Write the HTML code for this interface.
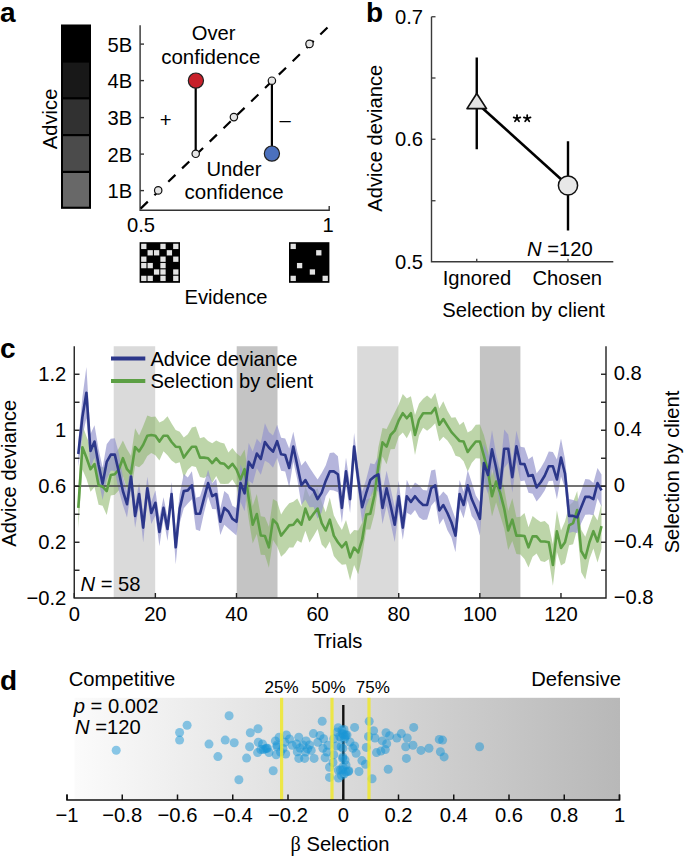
<!DOCTYPE html>
<html><head><meta charset="utf-8"><style>
html,body{margin:0;padding:0;background:#fff;}
svg{display:block;}
text{font-family:"Liberation Sans", sans-serif;fill:#000;}
</style></head><body>
<svg width="685" height="856" viewBox="0 0 685 856">
<text x="0" y="21.5" font-size="28" text-anchor="start" font-weight="bold">a</text>
<rect x="61" y="24.70" width="30" height="36.80" fill="#000000"/>
<rect x="61" y="61.50" width="30" height="36.80" fill="#181818"/>
<rect x="61" y="98.30" width="30" height="36.80" fill="#313131"/>
<rect x="61" y="135.10" width="30" height="36.80" fill="#4b4b4b"/>
<rect x="61" y="171.90" width="30" height="36.80" fill="#686868"/>
<rect x="62" y="25.70" width="28" height="182.00" fill="none" stroke="#000" stroke-width="2"/>
<line x1="61" x2="91" y1="61.50" y2="61.50" stroke="#000" stroke-width="2.2"/>
<line x1="61" x2="91" y1="98.30" y2="98.30" stroke="#000" stroke-width="2.2"/>
<line x1="61" x2="91" y1="135.10" y2="135.10" stroke="#000" stroke-width="2.2"/>
<line x1="61" x2="91" y1="171.90" y2="171.90" stroke="#000" stroke-width="2.2"/>
<text transform="translate(57,118.9) rotate(-90)" font-size="20.2" text-anchor="middle">Advice</text>
<path d="M140.1,25.3 V210.3 H329.2 V206" fill="none" stroke="#333" stroke-width="1.4"/>
<line x1="140.2" x2="144" y1="44.1" y2="44.1" stroke="#333" stroke-width="1.4"/>
<text x="132.2" y="51.5" font-size="20.2" text-anchor="end" >5B</text>
<line x1="140.2" x2="144" y1="80.60000000000001" y2="80.60000000000001" stroke="#333" stroke-width="1.4"/>
<text x="132.2" y="88.0" font-size="20.2" text-anchor="end" >4B</text>
<line x1="140.2" x2="144" y1="117.60000000000001" y2="117.60000000000001" stroke="#333" stroke-width="1.4"/>
<text x="132.2" y="125.0" font-size="20.2" text-anchor="end" >3B</text>
<line x1="140.2" x2="144" y1="154.1" y2="154.1" stroke="#333" stroke-width="1.4"/>
<text x="132.2" y="161.5" font-size="20.2" text-anchor="end" >2B</text>
<line x1="140.2" x2="144" y1="190.6" y2="190.6" stroke="#333" stroke-width="1.4"/>
<text x="132.2" y="198.0" font-size="20.2" text-anchor="end" >1B</text>
<text x="141" y="232" font-size="20.2" text-anchor="middle" >0.5</text>
<text x="328" y="232" font-size="20.2" text-anchor="middle" >1</text>
<line x1="140.6" y1="208.6" x2="327.5" y2="27.5" stroke="#000" stroke-width="2.2" stroke-dasharray="10,9.25"/>
<line x1="195.7" y1="80.7" x2="195.7" y2="153.8" stroke="#000" stroke-width="2.2"/>
<line x1="271.9" y1="80.7" x2="271.9" y2="153.8" stroke="#000" stroke-width="2.2"/>
<circle cx="158.2" cy="190.4" r="3.7" fill="#e6e6e6" stroke="#111" stroke-width="1.2"/>
<circle cx="195.7" cy="153.8" r="3.7" fill="#e6e6e6" stroke="#111" stroke-width="1.2"/>
<circle cx="233.9" cy="117.1" r="3.7" fill="#e6e6e6" stroke="#111" stroke-width="1.2"/>
<circle cx="271.9" cy="80.7" r="3.7" fill="#e6e6e6" stroke="#111" stroke-width="1.2"/>
<circle cx="309.5" cy="43.9" r="3.7" fill="#e6e6e6" stroke="#111" stroke-width="1.2"/>
<circle cx="195.9" cy="80.6" r="7.6" fill="#c8202a" stroke="#222" stroke-width="1.2"/>
<circle cx="271.9" cy="153.6" r="7.6" fill="#4b70bd" stroke="#222" stroke-width="1.2"/>
<text x="165.6" y="126.5" font-size="20.2" text-anchor="middle" >+</text>
<text x="285.2" y="127" font-size="20.2" text-anchor="middle" >–</text>
<text x="213.6" y="39.8" font-size="20.2" text-anchor="middle" >Over</text>
<text x="210.8" y="63.9" font-size="20.5" text-anchor="middle" >confidence</text>
<text x="234" y="175.8" font-size="20.2" text-anchor="middle" >Under</text>
<text x="234.2" y="199.2" font-size="20.5" text-anchor="middle" >confidence</text>
<rect x="139.6" y="242.2" width="40.4" height="40.6" fill="#000"/><rect x="141.15" y="243.75" width="5.30" height="5.30" fill="#e2e2e2"/><rect x="160.35" y="243.75" width="5.30" height="5.30" fill="#e2e2e2"/><rect x="173.15" y="243.75" width="5.30" height="5.30" fill="#e2e2e2"/><rect x="147.55" y="250.15" width="5.30" height="5.30" fill="#e2e2e2"/><rect x="153.95" y="250.15" width="5.30" height="5.30" fill="#e2e2e2"/><rect x="166.75" y="250.15" width="5.30" height="5.30" fill="#e2e2e2"/><rect x="141.15" y="256.55" width="5.30" height="5.30" fill="#e2e2e2"/><rect x="160.35" y="256.55" width="5.30" height="5.30" fill="#e2e2e2"/><rect x="173.15" y="256.55" width="5.30" height="5.30" fill="#e2e2e2"/><rect x="141.15" y="262.95" width="5.30" height="5.30" fill="#e2e2e2"/><rect x="147.55" y="262.95" width="5.30" height="5.30" fill="#e2e2e2"/><rect x="160.35" y="262.95" width="5.30" height="5.30" fill="#e2e2e2"/><rect x="153.95" y="269.35" width="5.30" height="5.30" fill="#e2e2e2"/><rect x="160.35" y="269.35" width="5.30" height="5.30" fill="#e2e2e2"/><rect x="173.15" y="269.35" width="5.30" height="5.30" fill="#e2e2e2"/><rect x="141.15" y="275.75" width="5.30" height="5.30" fill="#e2e2e2"/><rect x="147.55" y="275.75" width="5.30" height="5.30" fill="#e2e2e2"/><rect x="160.35" y="275.75" width="5.30" height="5.30" fill="#e2e2e2"/><rect x="173.15" y="275.75" width="5.30" height="5.30" fill="#e2e2e2"/>
<rect x="289.0" y="242.2" width="40.4" height="40.6" fill="#000"/><rect x="290.55" y="243.75" width="5.30" height="5.30" fill="#e2e2e2"/><rect x="316.15" y="250.15" width="5.30" height="5.30" fill="#e2e2e2"/><rect x="296.95" y="262.95" width="5.30" height="5.30" fill="#e2e2e2"/><rect x="309.75" y="269.35" width="5.30" height="5.30" fill="#e2e2e2"/><rect x="290.55" y="275.75" width="5.30" height="5.30" fill="#e2e2e2"/><rect x="322.55" y="275.75" width="5.30" height="5.30" fill="#e2e2e2"/>
<text x="226" y="304" font-size="20.2" text-anchor="middle" >Evidence</text>
<text x="366" y="21.5" font-size="28" text-anchor="start" font-weight="bold">b</text>
<path d="M431.5,16.75 V261.8 H613.3" fill="none" stroke="#3a3a3a" stroke-width="1.4"/>
<line x1="431.5" x2="435.5" y1="16.75" y2="16.75" stroke="#3a3a3a" stroke-width="1.3"/>
<line x1="431.5" x2="435.5" y1="78" y2="78" stroke="#3a3a3a" stroke-width="1.3"/>
<line x1="431.5" x2="435.5" y1="139.25" y2="139.25" stroke="#3a3a3a" stroke-width="1.3"/>
<line x1="431.5" x2="435.5" y1="200.75" y2="200.75" stroke="#3a3a3a" stroke-width="1.3"/>
<text x="423" y="23.95" font-size="20.2" text-anchor="end" >0.7</text>
<text x="423" y="146.45" font-size="20.2" text-anchor="end" >0.6</text>
<text x="423" y="269.2" font-size="20.2" text-anchor="end" >0.5</text>
<line x1="476.75" x2="476.75" y1="262" y2="258.8" stroke="#3a3a3a" stroke-width="1.3"/>
<line x1="568" x2="568" y1="262" y2="258.8" stroke="#3a3a3a" stroke-width="1.3"/>
<text x="477" y="285" font-size="20.2" text-anchor="middle" >Ignored</text>
<text x="567.3" y="285" font-size="20.2" text-anchor="middle" >Chosen</text>
<text x="523.6" y="317" font-size="20.2" text-anchor="middle" >Selection by client</text>
<text transform="translate(381.9,138.2) rotate(-90)" font-size="20.2" text-anchor="middle">Advice deviance</text>
<line x1="476.75" y1="57.5" x2="476.75" y2="149.25" stroke="#000" stroke-width="2.4"/>
<line x1="568" y1="141.25" x2="568" y2="230.5" stroke="#000" stroke-width="2.4"/>
<line x1="476.75" y1="103" x2="568" y2="185.5" stroke="#000" stroke-width="2.6"/>
<path d="M476.75,93.5 L486.5,108.6 L467,108.6 Z" fill="#e3e3e3" stroke="#111" stroke-width="1.7" stroke-linejoin="round"/>
<circle cx="568" cy="185.5" r="9.6" fill="#e8e8e8" stroke="#111" stroke-width="1.5"/>
<path d="M517.00,118.50 L517.00,115.00 M517.00,118.50 L513.67,117.42 M517.00,118.50 L514.94,121.33 M517.00,118.50 L519.06,121.33 M517.00,118.50 L520.33,117.42 " stroke="#000" stroke-width="1.75" stroke-linecap="round"/>
<path d="M527.20,118.50 L527.20,115.00 M527.20,118.50 L523.87,117.42 M527.20,118.50 L525.14,121.33 M527.20,118.50 L529.26,121.33 M527.20,118.50 L530.53,117.42 " stroke="#000" stroke-width="1.75" stroke-linecap="round"/>
<text x="527" y="255.5" font-size="20.2"><tspan font-style="italic">N</tspan> =120</text>
<text x="0" y="358" font-size="28" text-anchor="start" font-weight="bold">c</text>
<rect x="113.70" y="346.25" width="41.50" height="251.75" fill="#dadada"/>
<rect x="236.70" y="346.25" width="40.80" height="251.75" fill="#c4c4c4"/>
<rect x="357.20" y="346.25" width="41.20" height="251.75" fill="#dadada"/>
<rect x="479.90" y="346.25" width="40.50" height="251.75" fill="#c4c4c4"/>
<path d="M78.3,487.5 L82.4,425.0 L86.4,436.3 L90.5,446.6 L94.5,441.3 L98.6,465.9 L102.6,467.6 L106.7,467.1 L110.8,454.4 L114.8,453.9 L118.9,448.2 L122.9,440.4 L127.0,449.2 L131.0,455.7 L135.1,428.2 L139.1,435.5 L143.2,426.0 L147.3,415.6 L151.3,416.9 L155.4,416.4 L159.4,422.6 L163.5,420.4 L167.5,416.3 L171.6,423.5 L175.7,429.9 L179.7,431.8 L183.8,437.4 L187.8,434.2 L191.9,427.4 L195.9,426.4 L200.0,438.3 L204.0,437.1 L208.1,440.9 L212.2,443.3 L216.2,440.6 L220.3,442.5 L224.3,443.5 L228.4,452.6 L232.4,448.0 L236.5,453.3 L240.5,456.6 L244.6,449.6 L248.7,477.6 L252.7,505.9 L256.8,494.0 L260.8,516.2 L264.9,516.9 L268.9,526.8 L273.0,499.1 L277.1,501.5 L281.1,514.5 L285.2,507.9 L289.2,503.3 L293.3,501.8 L297.3,498.6 L301.4,506.7 L305.4,486.4 L309.5,496.8 L313.6,491.3 L317.6,488.2 L321.7,501.9 L325.7,512.2 L329.8,497.6 L333.8,515.2 L337.9,523.5 L341.9,529.9 L346.0,520.1 L350.1,534.6 L354.1,530.1 L358.2,530.6 L362.2,522.8 L366.3,499.6 L370.3,497.9 L374.4,476.9 L378.4,447.1 L382.5,428.0 L386.6,428.9 L390.6,420.7 L394.7,412.4 L398.7,404.5 L402.8,393.9 L406.8,398.4 L410.9,396.2 L415.0,415.0 L419.0,403.8 L423.1,398.7 L427.1,395.6 L431.2,399.0 L435.2,392.8 L439.3,408.4 L443.3,401.3 L447.4,410.7 L451.5,417.8 L455.5,417.3 L459.6,425.1 L463.6,421.7 L467.7,432.6 L471.7,430.3 L475.8,424.7 L479.9,424.4 L483.9,434.9 L488.0,450.9 L492.0,475.8 L496.1,460.9 L500.1,470.0 L504.2,488.6 L508.2,510.9 L512.3,498.3 L516.4,517.2 L520.4,516.8 L524.5,513.1 L528.5,527.2 L532.6,516.1 L536.6,519.3 L540.7,522.0 L544.7,521.0 L548.8,525.1 L552.9,544.3 L556.9,510.4 L561.0,530.6 L565.0,521.4 L569.1,505.6 L573.1,502.1 L577.2,490.9 L581.2,529.8 L585.3,536.8 L589.4,525.1 L593.4,513.8 L597.5,520.4 L601.5,503.3 L601.5,548.9 L597.5,562.6 L593.4,548.6 L589.4,559.3 L585.3,579.6 L581.2,572.2 L577.2,529.1 L573.1,544.3 L569.1,545.2 L565.0,563.0 L561.0,565.4 L556.9,552.0 L552.9,585.7 L548.8,559.3 L544.7,562.0 L540.7,561.0 L536.6,553.5 L532.6,556.7 L528.5,567.4 L524.5,558.9 L520.4,554.4 L516.4,554.0 L512.3,540.9 L508.2,550.1 L504.2,528.6 L500.1,515.2 L496.1,502.3 L492.0,516.6 L488.0,492.1 L483.9,476.7 L479.9,458.6 L475.8,458.3 L471.7,462.9 L467.7,471.4 L463.6,461.3 L459.6,456.9 L455.5,455.7 L451.5,446.4 L447.4,440.5 L443.3,436.7 L439.3,441.2 L435.2,423.2 L431.2,427.4 L427.1,430.8 L423.1,427.7 L419.0,435.6 L415.0,455.0 L410.9,430.2 L406.8,438.2 L402.8,432.5 L398.7,436.5 L394.7,449.0 L390.6,449.3 L386.6,464.3 L382.5,456.6 L378.4,485.5 L374.4,514.1 L370.3,529.5 L366.3,529.4 L362.2,555.8 L358.2,574.2 L354.1,565.1 L350.1,580.4 L346.0,564.3 L341.9,564.7 L337.9,560.9 L333.8,556.0 L329.8,541.6 L325.7,548.8 L321.7,544.5 L317.6,529.0 L313.6,536.1 L309.5,542.4 L305.4,530.8 L301.4,542.7 L297.3,540.6 L293.3,547.6 L289.2,547.5 L285.2,553.1 L281.1,556.7 L277.1,546.3 L273.0,540.1 L268.9,567.8 L264.9,555.1 L260.8,554.8 L256.8,534.0 L252.7,543.5 L248.7,519.2 L244.6,488.8 L240.5,502.2 L236.5,485.9 L232.4,479.6 L228.4,483.8 L224.3,484.1 L220.3,483.7 L216.2,476.0 L212.2,482.9 L208.1,475.7 L204.0,478.1 L200.0,476.9 L195.9,467.0 L191.9,466.0 L187.8,469.8 L183.8,477.8 L179.7,462.2 L175.7,463.5 L171.6,460.5 L167.5,455.3 L163.5,451.2 L159.4,460.6 L155.4,455.2 L151.3,453.1 L147.3,456.0 L143.2,463.6 L139.1,467.3 L135.1,465.8 L131.0,491.5 L127.0,489.2 L122.9,476.0 L118.9,490.2 L114.8,494.7 L110.8,495.6 L106.7,515.1 L102.6,505.8 L98.6,504.7 L94.5,486.9 L90.5,491.8 L86.4,478.7 L82.4,469.6 L78.3,528.3Z" fill="rgb(135,178,98)" fill-opacity="0.55"/>
<path d="M78.3,441.5 L82.4,397.3 L86.4,367.1 L90.5,434.1 L94.5,425.3 L98.6,448.9 L102.6,467.6 L106.7,444.3 L110.8,438.8 L114.8,438.3 L118.9,453.5 L122.9,476.8 L127.0,490.8 L131.0,462.1 L135.1,504.0 L139.1,482.7 L143.2,512.8 L147.3,476.8 L151.3,501.9 L155.4,490.2 L159.4,517.8 L163.5,497.3 L167.5,517.1 L171.6,482.0 L175.7,530.3 L179.7,494.0 L183.8,474.0 L187.8,477.4 L191.9,471.3 L195.9,497.8 L200.0,496.4 L204.0,483.7 L208.1,469.7 L212.2,483.5 L216.2,478.8 L220.3,508.7 L224.3,491.1 L228.4,494.5 L232.4,505.7 L236.5,508.1 L240.5,464.3 L244.6,475.4 L248.7,443.1 L252.7,451.6 L256.8,438.7 L260.8,443.2 L264.9,423.2 L268.9,431.9 L273.0,435.6 L277.1,424.7 L281.1,437.8 L285.2,438.5 L289.2,448.5 L293.3,431.7 L297.3,451.5 L301.4,465.6 L305.4,460.8 L309.5,467.5 L313.6,473.8 L317.6,479.4 L321.7,473.0 L325.7,465.6 L329.8,452.9 L333.8,452.4 L337.9,456.3 L341.9,492.8 L346.0,457.7 L350.1,485.1 L354.1,433.1 L358.2,467.0 L362.2,491.7 L366.3,478.9 L370.3,463.2 L374.4,464.2 L378.4,456.9 L382.5,491.7 L386.6,470.7 L390.6,488.3 L394.7,507.3 L398.7,480.7 L402.8,515.5 L406.8,479.7 L410.9,489.0 L415.0,482.4 L419.0,485.3 L423.1,489.9 L427.1,490.5 L431.2,470.6 L435.2,469.6 L439.3,496.4 L443.3,491.5 L447.4,495.8 L451.5,507.6 L455.5,518.9 L459.6,479.9 L463.6,491.8 L467.7,470.1 L471.7,482.2 L475.8,495.6 L479.9,502.0 L483.9,443.6 L488.0,456.2 L492.0,430.3 L496.1,453.7 L500.1,470.4 L504.2,429.6 L508.2,434.5 L512.3,461.6 L516.4,430.7 L520.4,446.8 L524.5,447.6 L528.5,459.2 L532.6,456.3 L536.6,473.4 L540.7,468.0 L544.7,461.0 L548.8,451.6 L552.9,451.9 L556.9,459.6 L561.0,438.4 L565.0,459.1 L569.1,498.9 L573.1,500.0 L577.2,501.5 L581.2,491.1 L585.3,479.0 L589.4,479.4 L593.4,482.9 L597.5,468.0 L601.5,474.4 L601.5,506.4 L597.5,498.2 L593.4,515.3 L589.4,514.4 L585.3,514.8 L581.2,523.3 L577.2,533.3 L573.1,531.8 L569.1,532.9 L565.0,488.1 L561.0,476.6 L556.9,499.2 L552.9,480.7 L548.8,481.0 L544.7,490.6 L540.7,496.6 L536.6,501.4 L532.6,493.7 L528.5,492.8 L524.5,480.6 L520.4,481.2 L516.4,461.9 L512.3,492.8 L508.2,463.1 L504.2,468.0 L500.1,506.0 L496.1,481.7 L492.0,468.1 L488.0,493.8 L483.9,482.6 L479.9,535.6 L475.8,521.6 L471.7,516.0 L467.7,500.5 L463.6,518.2 L459.6,508.1 L455.5,552.3 L451.5,537.4 L447.4,530.2 L443.3,518.5 L439.3,524.4 L435.2,501.0 L431.2,505.8 L427.1,519.5 L423.1,520.1 L419.0,517.3 L415.0,510.0 L410.9,515.0 L406.8,512.7 L402.8,539.7 L398.7,511.7 L394.7,542.1 L390.6,523.1 L386.6,505.7 L382.5,524.1 L378.4,491.7 L374.4,488.8 L370.3,497.0 L366.3,506.3 L362.2,522.7 L358.2,491.8 L354.1,459.9 L350.1,513.1 L346.0,485.1 L341.9,523.0 L337.9,492.3 L333.8,490.4 L329.8,489.9 L325.7,496.2 L321.7,512.2 L317.6,518.8 L313.6,507.0 L309.5,507.3 L305.4,499.4 L301.4,505.0 L297.3,479.5 L293.3,461.5 L289.2,487.5 L285.2,471.5 L281.1,470.8 L277.1,457.7 L273.0,467.8 L268.9,463.1 L264.9,460.8 L260.8,474.8 L256.8,468.3 L252.7,483.8 L248.7,480.7 L244.6,511.2 L240.5,501.9 L236.5,535.5 L232.4,531.9 L228.4,528.5 L224.3,524.7 L220.3,534.9 L216.2,509.2 L212.2,508.9 L208.1,496.5 L204.0,513.1 L200.0,531.0 L195.9,529.6 L191.9,499.3 L187.8,503.4 L183.8,508.2 L179.7,523.2 L175.7,564.3 L171.6,506.0 L167.5,540.9 L163.5,518.5 L159.4,546.2 L155.4,515.4 L151.3,524.1 L147.3,499.6 L143.2,542.4 L139.1,505.3 L135.1,527.8 L131.0,490.9 L127.0,517.6 L122.9,505.2 L118.9,490.7 L114.8,470.9 L110.8,470.4 L106.7,479.5 L102.6,500.0 L98.6,480.7 L94.5,457.7 L90.5,467.9 L86.4,418.3 L82.4,436.7 L78.3,466.5Z" fill="rgb(150,150,205)" fill-opacity="0.7"/>
<line x1="74.25" x2="606" y1="486" y2="486" stroke="#444" stroke-width="1.3"/>
<path d="M78.3,507.9 L82.4,447.3 L86.4,457.5 L90.5,469.2 L94.5,464.1 L98.6,485.3 L102.6,486.7 L106.7,491.1 L110.8,475.0 L114.8,474.3 L118.9,469.2 L122.9,458.2 L127.0,469.2 L131.0,473.6 L135.1,447.0 L139.1,451.4 L143.2,444.8 L147.3,435.8 L151.3,435.0 L155.4,435.8 L159.4,441.6 L163.5,435.8 L167.5,435.8 L171.6,442.0 L175.7,446.7 L179.7,447.0 L183.8,457.6 L187.8,452.0 L191.9,446.7 L195.9,446.7 L200.0,457.6 L204.0,457.6 L208.1,458.3 L212.2,463.1 L216.2,458.3 L220.3,463.1 L224.3,463.8 L228.4,468.2 L232.4,463.8 L236.5,469.6 L240.5,479.4 L244.6,469.2 L248.7,498.4 L252.7,524.7 L256.8,514.0 L260.8,535.5 L264.9,536.0 L268.9,547.3 L273.0,519.6 L277.1,523.9 L281.1,535.6 L285.2,530.5 L289.2,525.4 L293.3,524.7 L297.3,519.6 L301.4,524.7 L305.4,508.6 L309.5,519.6 L313.6,513.7 L317.6,508.6 L321.7,523.2 L325.7,530.5 L329.8,519.6 L333.8,535.6 L337.9,542.2 L341.9,547.3 L346.0,542.2 L350.1,557.5 L354.1,547.6 L358.2,552.4 L362.2,539.3 L366.3,514.5 L370.3,513.7 L374.4,495.5 L378.4,466.3 L382.5,442.3 L386.6,446.6 L390.6,435.0 L394.7,430.7 L398.7,420.5 L402.8,413.2 L406.8,418.3 L410.9,413.2 L415.0,435.0 L419.0,419.7 L423.1,413.2 L427.1,413.2 L431.2,413.2 L435.2,408.0 L439.3,424.8 L443.3,419.0 L447.4,425.6 L451.5,432.1 L455.5,436.5 L459.6,441.0 L463.6,441.5 L467.7,452.0 L471.7,446.6 L475.8,441.5 L479.9,441.5 L483.9,455.8 L488.0,471.5 L492.0,496.2 L496.1,481.6 L500.1,492.6 L504.2,508.6 L508.2,530.5 L512.3,519.6 L516.4,535.6 L520.4,535.6 L524.5,536.0 L528.5,547.3 L532.6,536.4 L536.6,536.4 L540.7,541.5 L544.7,541.5 L548.8,542.2 L552.9,565.0 L556.9,531.2 L561.0,548.0 L565.0,542.2 L569.1,525.4 L573.1,523.2 L577.2,510.0 L581.2,551.0 L585.3,558.2 L589.4,542.2 L593.4,531.2 L597.5,541.5 L601.5,526.1" fill="none" stroke="#5c9f44" stroke-width="2.6" stroke-linejoin="round"/>
<path d="M78.3,454.0 L82.4,417.0 L86.4,392.7 L90.5,451.0 L94.5,441.5 L98.6,464.8 L102.6,483.8 L106.7,461.9 L110.8,454.6 L114.8,454.6 L118.9,472.1 L122.9,491.0 L127.0,504.2 L131.0,476.5 L135.1,515.9 L139.1,494.0 L143.2,527.6 L147.3,488.2 L151.3,513.0 L155.4,502.8 L159.4,532.0 L163.5,507.9 L167.5,529.0 L171.6,494.0 L175.7,547.3 L179.7,508.6 L183.8,491.1 L187.8,490.4 L191.9,485.3 L195.9,513.7 L200.0,513.7 L204.0,498.4 L208.1,483.1 L212.2,496.2 L216.2,494.0 L220.3,521.8 L224.3,507.9 L228.4,511.5 L232.4,518.8 L236.5,521.8 L240.5,483.1 L244.6,493.3 L248.7,461.9 L252.7,467.7 L256.8,453.5 L260.8,459.0 L264.9,442.0 L268.9,447.5 L273.0,451.7 L277.1,441.2 L281.1,454.3 L285.2,455.0 L289.2,468.0 L293.3,446.6 L297.3,465.5 L301.4,485.3 L305.4,480.1 L309.5,487.4 L313.6,490.4 L317.6,499.1 L321.7,492.6 L325.7,480.9 L329.8,471.4 L333.8,471.4 L337.9,474.3 L341.9,507.9 L346.0,471.4 L350.1,499.1 L354.1,446.5 L358.2,479.4 L362.2,507.2 L366.3,492.6 L370.3,480.1 L374.4,476.5 L378.4,474.3 L382.5,507.9 L386.6,488.2 L390.6,505.7 L394.7,524.7 L398.7,496.2 L402.8,527.6 L406.8,496.2 L410.9,502.0 L415.0,496.2 L419.0,501.3 L423.1,505.0 L427.1,505.0 L431.2,488.2 L435.2,485.3 L439.3,510.4 L443.3,505.0 L447.4,513.0 L451.5,522.5 L455.5,535.6 L459.6,494.0 L463.6,505.0 L467.7,485.3 L471.7,499.1 L475.8,508.6 L479.9,518.8 L483.9,463.1 L488.0,475.0 L492.0,449.2 L496.1,467.7 L500.1,488.2 L504.2,448.8 L508.2,448.8 L512.3,477.2 L516.4,446.3 L520.4,464.0 L524.5,464.1 L528.5,476.0 L532.6,475.0 L536.6,487.4 L540.7,482.3 L544.7,475.8 L548.8,466.3 L552.9,466.3 L556.9,479.4 L561.0,457.5 L565.0,473.6 L569.1,515.9 L573.1,515.9 L577.2,517.4 L581.2,507.2 L585.3,496.9 L589.4,496.9 L593.4,499.1 L597.5,483.1 L601.5,490.4" fill="none" stroke="#2c378a" stroke-width="2.6" stroke-linejoin="round"/>
<path d="M74.25,346.25 V598 H606 V346.25" fill="none" stroke="#222" stroke-width="1.4"/>
<line x1="74.25" x2="79.5" y1="374.25" y2="374.25" stroke="#222" stroke-width="1.4"/>
<line x1="606" x2="601" y1="374.25" y2="374.25" stroke="#222" stroke-width="1.4"/>
<line x1="74.25" x2="79.5" y1="402.25" y2="402.25" stroke="#222" stroke-width="1.4"/>
<line x1="606" x2="601" y1="402.25" y2="402.25" stroke="#222" stroke-width="1.4"/>
<line x1="74.25" x2="79.5" y1="430.25" y2="430.25" stroke="#222" stroke-width="1.4"/>
<line x1="606" x2="601" y1="430.25" y2="430.25" stroke="#222" stroke-width="1.4"/>
<line x1="74.25" x2="79.5" y1="458.25" y2="458.25" stroke="#222" stroke-width="1.4"/>
<line x1="606" x2="601" y1="458.25" y2="458.25" stroke="#222" stroke-width="1.4"/>
<line x1="74.25" x2="79.5" y1="486.25" y2="486.25" stroke="#222" stroke-width="1.4"/>
<line x1="606" x2="601" y1="486.25" y2="486.25" stroke="#222" stroke-width="1.4"/>
<line x1="74.25" x2="79.5" y1="514.25" y2="514.25" stroke="#222" stroke-width="1.4"/>
<line x1="606" x2="601" y1="514.25" y2="514.25" stroke="#222" stroke-width="1.4"/>
<line x1="74.25" x2="79.5" y1="542.25" y2="542.25" stroke="#222" stroke-width="1.4"/>
<line x1="606" x2="601" y1="542.25" y2="542.25" stroke="#222" stroke-width="1.4"/>
<line x1="74.25" x2="79.5" y1="570.25" y2="570.25" stroke="#222" stroke-width="1.4"/>
<line x1="606" x2="601" y1="570.25" y2="570.25" stroke="#222" stroke-width="1.4"/>
<text x="66.3" y="380.75" font-size="20.2" text-anchor="end" >1.2</text>
<text x="66.3" y="436.5" font-size="20.2" text-anchor="end" >1</text>
<text x="66.3" y="492.5" font-size="20.2" text-anchor="end" >0.6</text>
<text x="66.3" y="548.5" font-size="20.2" text-anchor="end" >0.2</text>
<text x="66.3" y="604.5" font-size="20.2" text-anchor="end" >−0.2</text>
<text x="613.7" y="380.45" font-size="20.2" text-anchor="start" >0.8</text>
<text x="613.7" y="436.2" font-size="20.2" text-anchor="start" >0.4</text>
<text x="613.7" y="492.2" font-size="20.2" text-anchor="start" >0</text>
<text x="613.7" y="548.2" font-size="20.2" text-anchor="start" >−0.4</text>
<text x="613.7" y="604.2" font-size="20.2" text-anchor="start" >−0.8</text>
<line x1="74.25" x2="74.25" y1="598" y2="593" stroke="#222" stroke-width="1.4"/>
<text x="74.25" y="620.5" font-size="20.2" text-anchor="middle" >0</text>
<line x1="155.37" x2="155.37" y1="598" y2="593" stroke="#222" stroke-width="1.4"/>
<text x="155.37" y="620.5" font-size="20.2" text-anchor="middle" >20</text>
<line x1="236.49" x2="236.49" y1="598" y2="593" stroke="#222" stroke-width="1.4"/>
<text x="236.49" y="620.5" font-size="20.2" text-anchor="middle" >40</text>
<line x1="317.61" x2="317.61" y1="598" y2="593" stroke="#222" stroke-width="1.4"/>
<text x="317.61" y="620.5" font-size="20.2" text-anchor="middle" >60</text>
<line x1="398.73" x2="398.73" y1="598" y2="593" stroke="#222" stroke-width="1.4"/>
<text x="398.73" y="620.5" font-size="20.2" text-anchor="middle" >80</text>
<line x1="479.85" x2="479.85" y1="598" y2="593" stroke="#222" stroke-width="1.4"/>
<text x="479.85" y="620.5" font-size="20.2" text-anchor="middle" >100</text>
<line x1="560.97" x2="560.97" y1="598" y2="593" stroke="#222" stroke-width="1.4"/>
<text x="560.97" y="620.5" font-size="20.2" text-anchor="middle" >120</text>
<text x="338" y="648" font-size="20.2" text-anchor="middle" >Trials</text>
<text transform="translate(15.6,473.3) rotate(-90)" font-size="20.2" text-anchor="middle">Advice deviance</text>
<text transform="translate(678.7,472) rotate(-90)" font-size="20.2" text-anchor="middle">Selection by client</text>
<line x1="111" x2="145.3" y1="358.5" y2="358.5" stroke="#2c378a" stroke-width="4"/>
<line x1="111" x2="145.3" y1="381" y2="381" stroke="#5c9f44" stroke-width="4"/>
<text x="150.4" y="365.5" font-size="20.2" text-anchor="start" >Advice deviance</text>
<text x="150.4" y="388" font-size="20.2" text-anchor="start" >Selection by client</text>
<text x="80.5" y="590.75" font-size="20.2"><tspan font-style="italic">N</tspan> = 58</text>
<text x="0" y="689.5" font-size="28" text-anchor="start" font-weight="bold">d</text>
<defs><linearGradient id="gd" x1="0" x2="1" y1="0" y2="0"><stop offset="0" stop-color="#fbfbfb"/><stop offset="1" stop-color="#b8b8b8"/></linearGradient></defs>
<rect x="74.5" y="697.8" width="545.5" height="102.2" fill="url(#gd)"/>
<line x1="343.3" x2="343.3" y1="705" y2="727.5" stroke="#111" stroke-width="2.4"/>
<line x1="343.3" x2="343.3" y1="741" y2="764" stroke="#111" stroke-width="2.4"/>
<line x1="343.3" x2="343.3" y1="777" y2="800" stroke="#111" stroke-width="2.4"/>
<circle cx="116.2" cy="750.3" r="4.5" fill="#1a95d6" fill-opacity="0.5"/>
<circle cx="179.6" cy="732.5" r="4.5" fill="#1a95d6" fill-opacity="0.5"/>
<circle cx="179.6" cy="740.1" r="4.5" fill="#1a95d6" fill-opacity="0.5"/>
<circle cx="187.1" cy="725.2" r="4.5" fill="#1a95d6" fill-opacity="0.5"/>
<circle cx="229.1" cy="715.8" r="4.5" fill="#1a95d6" fill-opacity="0.5"/>
<circle cx="209" cy="744.1" r="4.5" fill="#1a95d6" fill-opacity="0.5"/>
<circle cx="225.2" cy="740.1" r="4.5" fill="#1a95d6" fill-opacity="0.5"/>
<circle cx="234.2" cy="742.8" r="4.5" fill="#1a95d6" fill-opacity="0.5"/>
<circle cx="217.9" cy="756.6" r="4.5" fill="#1a95d6" fill-opacity="0.5"/>
<circle cx="238.9" cy="779.7" r="4.5" fill="#1a95d6" fill-opacity="0.5"/>
<circle cx="258" cy="728.8" r="4.5" fill="#1a95d6" fill-opacity="0.5"/>
<circle cx="250.3" cy="732.8" r="4.5" fill="#1a95d6" fill-opacity="0.5"/>
<circle cx="249.6" cy="746.7" r="4.5" fill="#1a95d6" fill-opacity="0.5"/>
<circle cx="246.6" cy="758.1" r="4.5" fill="#1a95d6" fill-opacity="0.5"/>
<circle cx="258.3" cy="742.3" r="4.5" fill="#1a95d6" fill-opacity="0.5"/>
<circle cx="257.6" cy="752.6" r="4.5" fill="#1a95d6" fill-opacity="0.5"/>
<circle cx="263.4" cy="749.6" r="4.5" fill="#1a95d6" fill-opacity="0.5"/>
<circle cx="266.4" cy="748.2" r="4.5" fill="#1a95d6" fill-opacity="0.5"/>
<circle cx="260.8" cy="749.6" r="4.5" fill="#1a95d6" fill-opacity="0.5"/>
<circle cx="265.2" cy="748.9" r="4.5" fill="#1a95d6" fill-opacity="0.5"/>
<circle cx="267.4" cy="748.2" r="4.5" fill="#1a95d6" fill-opacity="0.5"/>
<circle cx="273.2" cy="770.8" r="4.5" fill="#1a95d6" fill-opacity="0.5"/>
<circle cx="275.4" cy="740.9" r="4.5" fill="#1a95d6" fill-opacity="0.5"/>
<circle cx="276.9" cy="746.7" r="4.5" fill="#1a95d6" fill-opacity="0.5"/>
<circle cx="276.2" cy="754.7" r="4.5" fill="#1a95d6" fill-opacity="0.5"/>
<circle cx="279.1" cy="737.2" r="4.5" fill="#1a95d6" fill-opacity="0.5"/>
<circle cx="286.4" cy="735" r="4.5" fill="#1a95d6" fill-opacity="0.5"/>
<circle cx="284.9" cy="742.3" r="4.5" fill="#1a95d6" fill-opacity="0.5"/>
<circle cx="285.7" cy="754" r="4.5" fill="#1a95d6" fill-opacity="0.5"/>
<circle cx="292.2" cy="745.3" r="4.5" fill="#1a95d6" fill-opacity="0.5"/>
<circle cx="298.8" cy="737.2" r="4.5" fill="#1a95d6" fill-opacity="0.5"/>
<circle cx="297.3" cy="751.8" r="4.5" fill="#1a95d6" fill-opacity="0.5"/>
<circle cx="298.8" cy="758.4" r="4.5" fill="#1a95d6" fill-opacity="0.5"/>
<circle cx="304.6" cy="758.4" r="4.5" fill="#1a95d6" fill-opacity="0.5"/>
<circle cx="306.1" cy="740.9" r="4.5" fill="#1a95d6" fill-opacity="0.5"/>
<circle cx="307.6" cy="748.9" r="4.5" fill="#1a95d6" fill-opacity="0.5"/>
<circle cx="311.2" cy="750.4" r="4.5" fill="#1a95d6" fill-opacity="0.5"/>
<circle cx="313.4" cy="733.6" r="4.5" fill="#1a95d6" fill-opacity="0.5"/>
<circle cx="314.1" cy="758.4" r="4.5" fill="#1a95d6" fill-opacity="0.5"/>
<circle cx="317.8" cy="742.3" r="4.5" fill="#1a95d6" fill-opacity="0.5"/>
<circle cx="322.2" cy="721.2" r="4.5" fill="#1a95d6" fill-opacity="0.5"/>
<circle cx="323.6" cy="738.7" r="4.5" fill="#1a95d6" fill-opacity="0.5"/>
<circle cx="322.9" cy="748.2" r="4.5" fill="#1a95d6" fill-opacity="0.5"/>
<circle cx="325.1" cy="757.7" r="4.5" fill="#1a95d6" fill-opacity="0.5"/>
<circle cx="328" cy="745.3" r="4.5" fill="#1a95d6" fill-opacity="0.5"/>
<circle cx="329.5" cy="767.2" r="4.5" fill="#1a95d6" fill-opacity="0.5"/>
<circle cx="329.5" cy="777.4" r="4.5" fill="#1a95d6" fill-opacity="0.5"/>
<circle cx="333.8" cy="738.7" r="4.5" fill="#1a95d6" fill-opacity="0.5"/>
<circle cx="333.8" cy="754.7" r="4.5" fill="#1a95d6" fill-opacity="0.5"/>
<circle cx="338.2" cy="727.7" r="4.5" fill="#1a95d6" fill-opacity="0.5"/>
<circle cx="339.7" cy="736.5" r="4.5" fill="#1a95d6" fill-opacity="0.5"/>
<circle cx="341.1" cy="746.7" r="4.5" fill="#1a95d6" fill-opacity="0.5"/>
<circle cx="342.6" cy="758.4" r="4.5" fill="#1a95d6" fill-opacity="0.5"/>
<circle cx="338.2" cy="770.1" r="4.5" fill="#1a95d6" fill-opacity="0.5"/>
<circle cx="342.6" cy="770.1" r="4.5" fill="#1a95d6" fill-opacity="0.5"/>
<circle cx="347" cy="735" r="4.5" fill="#1a95d6" fill-opacity="0.5"/>
<circle cx="348.4" cy="771.5" r="4.5" fill="#1a95d6" fill-opacity="0.5"/>
<circle cx="352.8" cy="748.2" r="4.5" fill="#1a95d6" fill-opacity="0.5"/>
<circle cx="354.6" cy="727.4" r="4.5" fill="#1a95d6" fill-opacity="0.5"/>
<circle cx="369.2" cy="721.2" r="4.5" fill="#1a95d6" fill-opacity="0.5"/>
<circle cx="373.6" cy="730.7" r="4.5" fill="#1a95d6" fill-opacity="0.5"/>
<circle cx="368.5" cy="736.5" r="4.5" fill="#1a95d6" fill-opacity="0.5"/>
<circle cx="375" cy="738" r="4.5" fill="#1a95d6" fill-opacity="0.5"/>
<circle cx="386" cy="732.8" r="4.5" fill="#1a95d6" fill-opacity="0.5"/>
<circle cx="389.6" cy="735.8" r="4.5" fill="#1a95d6" fill-opacity="0.5"/>
<circle cx="396.9" cy="738" r="4.5" fill="#1a95d6" fill-opacity="0.5"/>
<circle cx="401.3" cy="733.6" r="4.5" fill="#1a95d6" fill-opacity="0.5"/>
<circle cx="407.2" cy="738" r="4.5" fill="#1a95d6" fill-opacity="0.5"/>
<circle cx="413.7" cy="727.4" r="4.5" fill="#1a95d6" fill-opacity="0.5"/>
<circle cx="354.6" cy="746" r="4.5" fill="#1a95d6" fill-opacity="0.5"/>
<circle cx="356.1" cy="753.3" r="4.5" fill="#1a95d6" fill-opacity="0.5"/>
<circle cx="366.3" cy="747.4" r="4.5" fill="#1a95d6" fill-opacity="0.5"/>
<circle cx="361.9" cy="760.6" r="4.5" fill="#1a95d6" fill-opacity="0.5"/>
<circle cx="365.5" cy="764.2" r="4.5" fill="#1a95d6" fill-opacity="0.5"/>
<circle cx="376.5" cy="752.6" r="4.5" fill="#1a95d6" fill-opacity="0.5"/>
<circle cx="380.9" cy="751.1" r="4.5" fill="#1a95d6" fill-opacity="0.5"/>
<circle cx="385.3" cy="749.6" r="4.5" fill="#1a95d6" fill-opacity="0.5"/>
<circle cx="386.7" cy="743.8" r="4.5" fill="#1a95d6" fill-opacity="0.5"/>
<circle cx="382.3" cy="740.9" r="4.5" fill="#1a95d6" fill-opacity="0.5"/>
<circle cx="405.7" cy="746.7" r="4.5" fill="#1a95d6" fill-opacity="0.5"/>
<circle cx="413" cy="745.3" r="4.5" fill="#1a95d6" fill-opacity="0.5"/>
<circle cx="421" cy="750.4" r="4.5" fill="#1a95d6" fill-opacity="0.5"/>
<circle cx="429" cy="748.2" r="4.5" fill="#1a95d6" fill-opacity="0.5"/>
<circle cx="406.4" cy="758.4" r="4.5" fill="#1a95d6" fill-opacity="0.5"/>
<circle cx="388.2" cy="769.3" r="4.5" fill="#1a95d6" fill-opacity="0.5"/>
<circle cx="372.1" cy="778.8" r="4.5" fill="#1a95d6" fill-opacity="0.5"/>
<circle cx="359" cy="771.5" r="4.5" fill="#1a95d6" fill-opacity="0.5"/>
<circle cx="348.8" cy="770.8" r="4.5" fill="#1a95d6" fill-opacity="0.5"/>
<circle cx="342.2" cy="733.6" r="4.5" fill="#1a95d6" fill-opacity="0.5"/>
<circle cx="345.8" cy="735" r="4.5" fill="#1a95d6" fill-opacity="0.5"/>
<circle cx="342.9" cy="748.2" r="4.5" fill="#1a95d6" fill-opacity="0.5"/>
<circle cx="342.9" cy="756.9" r="4.5" fill="#1a95d6" fill-opacity="0.5"/>
<circle cx="439.3" cy="739.4" r="4.5" fill="#1a95d6" fill-opacity="0.5"/>
<circle cx="277" cy="745" r="4.5" fill="#1a95d6" fill-opacity="0.5"/>
<circle cx="283" cy="748.5" r="4.5" fill="#1a95d6" fill-opacity="0.5"/>
<circle cx="280.5" cy="752" r="4.5" fill="#1a95d6" fill-opacity="0.5"/>
<circle cx="337" cy="732" r="4.5" fill="#1a95d6" fill-opacity="0.5"/>
<circle cx="344" cy="729.5" r="4.5" fill="#1a95d6" fill-opacity="0.5"/>
<circle cx="344.5" cy="739" r="4.5" fill="#1a95d6" fill-opacity="0.5"/>
<circle cx="346" cy="765" r="4.5" fill="#1a95d6" fill-opacity="0.5"/>
<circle cx="341.5" cy="775.5" r="4.5" fill="#1a95d6" fill-opacity="0.5"/>
<circle cx="345" cy="760" r="4.5" fill="#1a95d6" fill-opacity="0.5"/>
<circle cx="336.5" cy="746" r="4.5" fill="#1a95d6" fill-opacity="0.5"/>
<circle cx="327" cy="752" r="4.5" fill="#1a95d6" fill-opacity="0.5"/>
<circle cx="333" cy="762.5" r="4.5" fill="#1a95d6" fill-opacity="0.5"/>
<circle cx="262.5" cy="744" r="4.5" fill="#1a95d6" fill-opacity="0.5"/>
<circle cx="269" cy="752.5" r="4.5" fill="#1a95d6" fill-opacity="0.5"/>
<circle cx="289.5" cy="739" r="4.5" fill="#1a95d6" fill-opacity="0.5"/>
<circle cx="303" cy="745" r="4.5" fill="#1a95d6" fill-opacity="0.5"/>
<circle cx="320" cy="735.5" r="4.5" fill="#1a95d6" fill-opacity="0.5"/>
<circle cx="350" cy="742" r="4.5" fill="#1a95d6" fill-opacity="0.5"/>
<circle cx="338.5" cy="778" r="4.5" fill="#1a95d6" fill-opacity="0.5"/>
<circle cx="344" cy="774" r="4.5" fill="#1a95d6" fill-opacity="0.5"/>
<circle cx="343.5" cy="734.5" r="4.5" fill="#1a95d6" fill-opacity="0.5"/>
<circle cx="342" cy="730" r="4.5" fill="#1a95d6" fill-opacity="0.5"/>
<circle cx="345" cy="736.5" r="4.5" fill="#1a95d6" fill-opacity="0.5"/>
<circle cx="341" cy="738" r="4.5" fill="#1a95d6" fill-opacity="0.5"/>
<circle cx="300" cy="748" r="4.5" fill="#1a95d6" fill-opacity="0.5"/>
<circle cx="305.5" cy="752" r="4.5" fill="#1a95d6" fill-opacity="0.5"/>
<circle cx="309.5" cy="745" r="4.5" fill="#1a95d6" fill-opacity="0.5"/>
<circle cx="296.5" cy="744" r="4.5" fill="#1a95d6" fill-opacity="0.5"/>
<circle cx="343" cy="767" r="4.5" fill="#1a95d6" fill-opacity="0.5"/>
<circle cx="346" cy="772" r="4.5" fill="#1a95d6" fill-opacity="0.5"/>
<circle cx="340.5" cy="770" r="4.5" fill="#1a95d6" fill-opacity="0.5"/>
<circle cx="442.6" cy="740.1" r="4.5" fill="#1a95d6" fill-opacity="0.5"/>
<circle cx="440.4" cy="751.8" r="4.5" fill="#1a95d6" fill-opacity="0.5"/>
<circle cx="444.1" cy="756.9" r="4.5" fill="#1a95d6" fill-opacity="0.5"/>
<circle cx="479.6" cy="746.7" r="4.5" fill="#1a95d6" fill-opacity="0.5"/>
<line x1="281.6" x2="281.6" y1="697.8" y2="800" stroke="#eee82c" stroke-width="3.2" stroke-opacity="0.85"/>
<line x1="332" x2="332" y1="697.8" y2="800" stroke="#eee82c" stroke-width="3.2" stroke-opacity="0.85"/>
<line x1="369" x2="369" y1="697.8" y2="800" stroke="#eee82c" stroke-width="3.2" stroke-opacity="0.85"/>
<path d="M67,794.5 V800 H619.5 V794.5" fill="none" stroke="#111" stroke-width="1.5"/>
<line x1="67.00" x2="67.00" y1="800" y2="794.5" stroke="#111" stroke-width="1.5"/>
<text x="67.0" y="821.8" font-size="20.2" text-anchor="middle" >−1</text>
<line x1="122.25" x2="122.25" y1="800" y2="794.5" stroke="#111" stroke-width="1.5"/>
<text x="122.25" y="821.8" font-size="20.2" text-anchor="middle" >−0.8</text>
<line x1="177.50" x2="177.50" y1="800" y2="794.5" stroke="#111" stroke-width="1.5"/>
<text x="177.5" y="821.8" font-size="20.2" text-anchor="middle" >−0.6</text>
<line x1="232.75" x2="232.75" y1="800" y2="794.5" stroke="#111" stroke-width="1.5"/>
<text x="232.75000000000003" y="821.8" font-size="20.2" text-anchor="middle" >−0.4</text>
<line x1="288.00" x2="288.00" y1="800" y2="794.5" stroke="#111" stroke-width="1.5"/>
<text x="288.0" y="821.8" font-size="20.2" text-anchor="middle" >−0.2</text>
<line x1="343.25" x2="343.25" y1="800" y2="794.5" stroke="#111" stroke-width="1.5"/>
<text x="343.25" y="821.8" font-size="20.2" text-anchor="middle" >0</text>
<line x1="398.50" x2="398.50" y1="800" y2="794.5" stroke="#111" stroke-width="1.5"/>
<text x="398.50000000000006" y="821.8" font-size="20.2" text-anchor="middle" >0.2</text>
<line x1="453.75" x2="453.75" y1="800" y2="794.5" stroke="#111" stroke-width="1.5"/>
<text x="453.75000000000006" y="821.8" font-size="20.2" text-anchor="middle" >0.4</text>
<line x1="509.00" x2="509.00" y1="800" y2="794.5" stroke="#111" stroke-width="1.5"/>
<text x="509.0" y="821.8" font-size="20.2" text-anchor="middle" >0.6</text>
<line x1="564.25" x2="564.25" y1="800" y2="794.5" stroke="#111" stroke-width="1.5"/>
<text x="564.25" y="821.8" font-size="20.2" text-anchor="middle" >0.8</text>
<line x1="619.50" x2="619.50" y1="800" y2="794.5" stroke="#111" stroke-width="1.5"/>
<text x="619.5" y="821.8" font-size="20.2" text-anchor="middle" >1</text>
<text x="340" y="850.6" font-size="20.2" text-anchor="middle"><tspan font-family="Liberation Serif">β</tspan> Selection</text>
<text x="68.75" y="685.75" font-size="20.2" text-anchor="start" >Competitive</text>
<text x="621" y="685.5" font-size="20.2" text-anchor="end" >Defensive</text>
<text x="73.75" y="712.5" font-size="20.2"><tspan font-style="italic">p</tspan> = 0.002</text>
<text x="75" y="734.25" font-size="20.2"><tspan font-style="italic">N</tspan> =120</text>
<text x="281.5" y="692.9" font-size="17" text-anchor="middle" >25%</text>
<text x="328.6" y="692.9" font-size="17" text-anchor="middle" >50%</text>
<text x="372.8" y="692.9" font-size="17" text-anchor="middle" >75%</text>
</svg>
</body></html>
